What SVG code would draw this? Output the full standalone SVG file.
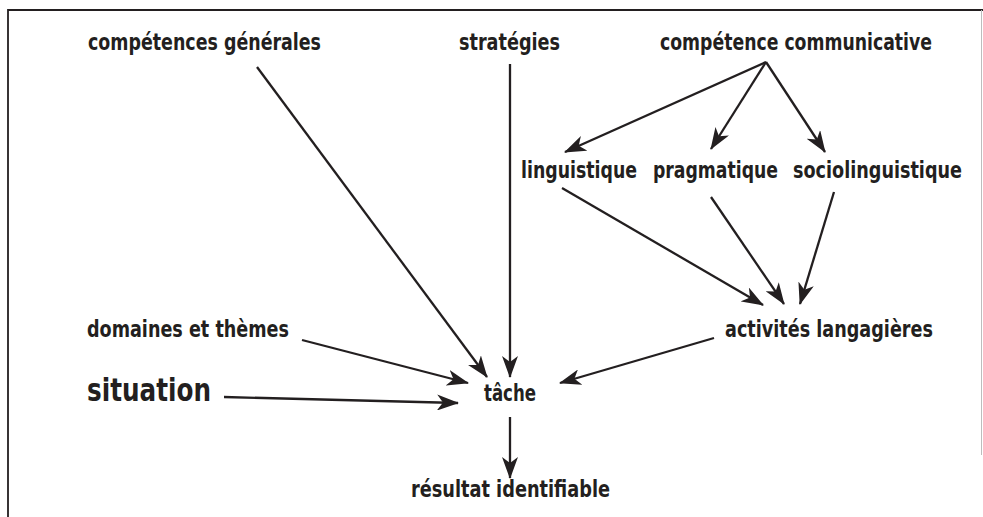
<svg xmlns="http://www.w3.org/2000/svg" width="983" height="517" viewBox="0 0 983 517">
<style>
.t{font-family:"DejaVu Sans Condensed","DejaVu Sans","Liberation Sans",sans-serif;font-weight:bold;font-size:23px;fill:#231f20}
.big{font-size:32px}
.c line{stroke:#231f20;stroke-width:2.3;marker-end:url(#ah)}
</style>
<defs>
<marker id="ah" markerUnits="userSpaceOnUse" viewBox="0 0 22 16" refX="21" refY="8" markerWidth="22" markerHeight="16" orient="auto">
<path d="M0,0 L22,8 L0,16 L6,8 Z" fill="#231f20"/>
</marker>
</defs>
<rect width="983" height="517" fill="#fff"/>
<g id="frame">
<path d="M8,517 V10 H983" fill="none" stroke="#231f20" stroke-width="1.8"/>
<line x1="981.5" y1="10" x2="981.5" y2="455" stroke="#bdbdbd" stroke-width="1"/>
</g>
<g class="c" id="connectors">
<line x1="257" y1="67" x2="487" y2="377"/>
<line x1="510" y1="64" x2="510" y2="377"/>
<line x1="302" y1="340" x2="468" y2="383"/>
<line x1="224" y1="397" x2="458" y2="403"/>
<line x1="714" y1="338" x2="560" y2="383"/>
<line x1="510" y1="417" x2="510" y2="478"/>
<line x1="766" y1="62" x2="565" y2="152"/>
<line x1="766" y1="62" x2="711" y2="149"/>
<line x1="766" y1="62" x2="825" y2="152"/>
<line x1="562" y1="188" x2="763" y2="305"/>
<line x1="711" y1="197" x2="784" y2="304"/>
<line x1="834" y1="192" x2="800" y2="304"/>
</g>
<g id="n-competences-generales"><text class="t" transform="translate(88,50) scale(0.8,1)" textLength="291.25" lengthAdjust="spacingAndGlyphs">compétences générales</text></g>
<g id="n-strategies"><text class="t" transform="translate(459,50) scale(0.8,1)" textLength="126.25" lengthAdjust="spacingAndGlyphs">stratégies</text></g>
<g id="n-competence-communicative"><text class="t" transform="translate(660,50) scale(0.8,1)" textLength="340" lengthAdjust="spacingAndGlyphs">compétence communicative</text></g>
<g id="n-linguistique"><text class="t" transform="translate(521,178) scale(0.8,1)" textLength="145" lengthAdjust="spacingAndGlyphs">linguistique</text></g>
<g id="n-pragmatique"><text class="t" transform="translate(653,178) scale(0.8,1)" textLength="156.25" lengthAdjust="spacingAndGlyphs">pragmatique</text></g>
<g id="n-sociolinguistique"><text class="t" transform="translate(793,178) scale(0.8,1)" textLength="211.25" lengthAdjust="spacingAndGlyphs">sociolinguistique</text></g>
<g id="n-domaines"><text class="t" transform="translate(87,337) scale(0.8,1)" textLength="252.5" lengthAdjust="spacingAndGlyphs">domaines et thèmes</text></g>
<g id="n-situation"><text class="t big" transform="translate(87,401) scale(0.8,1)" textLength="155" lengthAdjust="spacingAndGlyphs">situation</text></g>
<g id="n-tache"><text class="t" transform="translate(484,401) scale(0.8,1)" textLength="65" lengthAdjust="spacingAndGlyphs">tâche</text></g>
<g id="n-resultat"><text class="t" transform="translate(411,497) scale(0.8,1)" textLength="248.75" lengthAdjust="spacingAndGlyphs">résultat identifiable</text></g>
<g id="n-activites"><text class="t" transform="translate(725,337) scale(0.8,1)" textLength="260" lengthAdjust="spacingAndGlyphs">activités langagières</text></g>
</svg>
